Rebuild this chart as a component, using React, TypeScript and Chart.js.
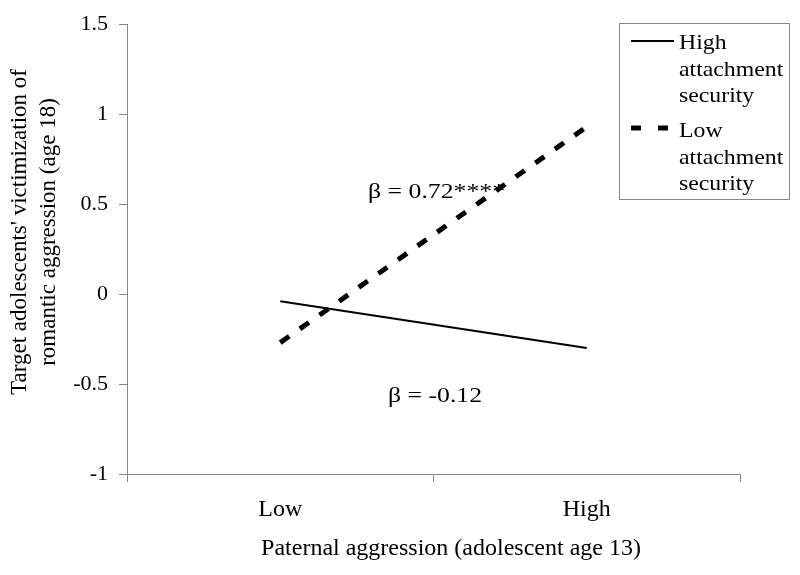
import React, { useEffect, useRef } from "react";
import { Chart, registerables } from "chart.js";

Chart.register(...registerables);

const categories = ["Low", "High"];
const highSecurity = [-0.04, -0.3];
const lowSecurity = [-0.27, 0.93];
const seriesNames = [
  ["High", "attachment", "security"],
  ["Low", "attachment", "security"],
];
const annotationTexts = ["β = 0.72****", "β = -0.12"];
const annotationX = [0.51, 0.505];
const annotationY = [0.533, -0.6];
const yTitle = ["Target adolescents' victimization of", "romantic aggression (age 18)"];
const xTitle = "Paternal aggression (adolescent age 13)";

const FONT = "'Liberation Serif', 'Times New Roman', serif";
const AXIS_COLOR = "#868686";

function stretchedText(ctx: any, text: string, x: number, y: number, sx: number) {
  ctx.save();
  ctx.translate(x, y);
  ctx.scale(sx, 1);
  ctx.fillText(text, 0, 0);
  ctx.restore();
}

const overlayPlugin = {
  id: "overlay",
  afterDraw(chart: any) {
    const ctx = chart.ctx;
    const xs = chart.scales.x;
    const ys = chart.scales.y;
    ctx.save();
    ctx.fillStyle = "#000";

    // annotations
    ctx.font = `22px ${FONT}`;
    ctx.textAlign = "center";
    ctx.textBaseline = "alphabetic";
    annotationTexts.forEach((t, i) => {
      stretchedText(ctx, t, xs.getPixelForValue(annotationX[i]), ys.getPixelForValue(annotationY[i]), 1.17);
    });

    // x axis title
    ctx.font = `24px ${FONT}`;
    ctx.textAlign = "center";
    ctx.fillText(xTitle, 451, 555);

    // y axis title
    ctx.font = `23px ${FONT}`;
    ctx.save();
    ctx.translate(0, 232);
    ctx.rotate(-Math.PI / 2);
    ctx.textAlign = "center";
    ctx.fillText(yTitle[0], 0, 26);
    ctx.fillText(yTitle[1], 0, 55);
    ctx.restore();

    // legend
    const bx = 619, by = 23, bw = 170, bh = 176;
    ctx.fillStyle = "#fff";
    ctx.fillRect(bx, by, bw, bh);
    ctx.strokeStyle = AXIS_COLOR;
    ctx.lineWidth = 1;
    ctx.strokeRect(bx + 0.5, by + 0.5, bw, bh);

    ctx.strokeStyle = "#000";
    ctx.lineWidth = 2;
    ctx.setLineDash([]);
    ctx.beginPath();
    ctx.moveTo(631, 41);
    ctx.lineTo(674, 41);
    ctx.stroke();

    ctx.lineWidth = 5;
    ctx.setLineDash([10, 17]);
    ctx.beginPath();
    ctx.moveTo(631, 128);
    ctx.lineTo(674, 128);
    ctx.stroke();
    ctx.setLineDash([]);

    ctx.fillStyle = "#000";
    ctx.font = `22px ${FONT}`;
    ctx.textAlign = "left";
    ctx.textBaseline = "alphabetic";
    const baselines = [
      [49, 76, 102],
      [137, 164, 190],
    ];
    seriesNames.forEach((lines, i) => {
      lines.forEach((l, j) => stretchedText(ctx, l, 679, baselines[i][j], 1.08));
    });
    ctx.restore();
  },
};

export default function App() {
  const ref = useRef<HTMLCanvasElement | null>(null);
  useEffect(() => {
    if (!ref.current) return;
    Chart.defaults.font.family = FONT;
    const chart = new Chart(ref.current, {
      type: "line",
      data: {
        labels: categories,
        datasets: [
          {
            label: "High attachment security",
            data: highSecurity,
            borderColor: "#000",
            borderWidth: 2,
            pointRadius: 0,
            fill: false,
          },
          {
            label: "Low attachment security",
            data: lowSecurity,
            borderColor: "#000",
            borderWidth: 5,
            borderDash: [11, 13],
            borderCapStyle: "butt",
            pointRadius: 0,
            fill: false,
          },
        ],
      },
      options: {
        animation: false,
        responsive: false,
        maintainAspectRatio: false,
        layout: { padding: { top: 24, right: 60, left: 0, bottom: 0 } },
        plugins: { legend: { display: false }, tooltip: { enabled: false } },
        scales: {
          x: {
            type: "category",
            offset: true,
            grid: {
              offset: true,
              drawOnChartArea: false,
              drawTicks: true,
              tickLength: 8,
              color: AXIS_COLOR,
            },
            border: { display: true, color: AXIS_COLOR, width: 1 },
            ticks: { color: "#000", font: { size: 24, family: FONT }, padding: 13, maxRotation: 0 },
            title: { display: false, text: xTitle },
            afterFit: (s: any) => {
              s.height = 101;
            },
          },
          y: {
            min: -1,
            max: 1.5,
            ticks: {
              stepSize: 0.5,
              color: "#000",
              font: { size: 22, family: FONT },
              padding: 11,
              callback: (v: any) => String(v),
            },
            grid: {
              drawOnChartArea: false,
              drawTicks: true,
              tickLength: 8,
              color: AXIS_COLOR,
            },
            border: { display: true, color: AXIS_COLOR, width: 1 },
            title: { display: false, text: yTitle },
            afterFit: (s: any) => {
              s.width = 127;
            },
          },
        },
      },
      plugins: [overlayPlugin],
    });
    return () => chart.destroy();
  }, []);
  return (
    <div style={{ position: "fixed", left: 0, top: 0, width: 800, height: 575, background: "#fff" }}>
      <canvas ref={ref} width={800} height={575} style={{ width: 800, height: 575 }} />
    </div>
  );
}
